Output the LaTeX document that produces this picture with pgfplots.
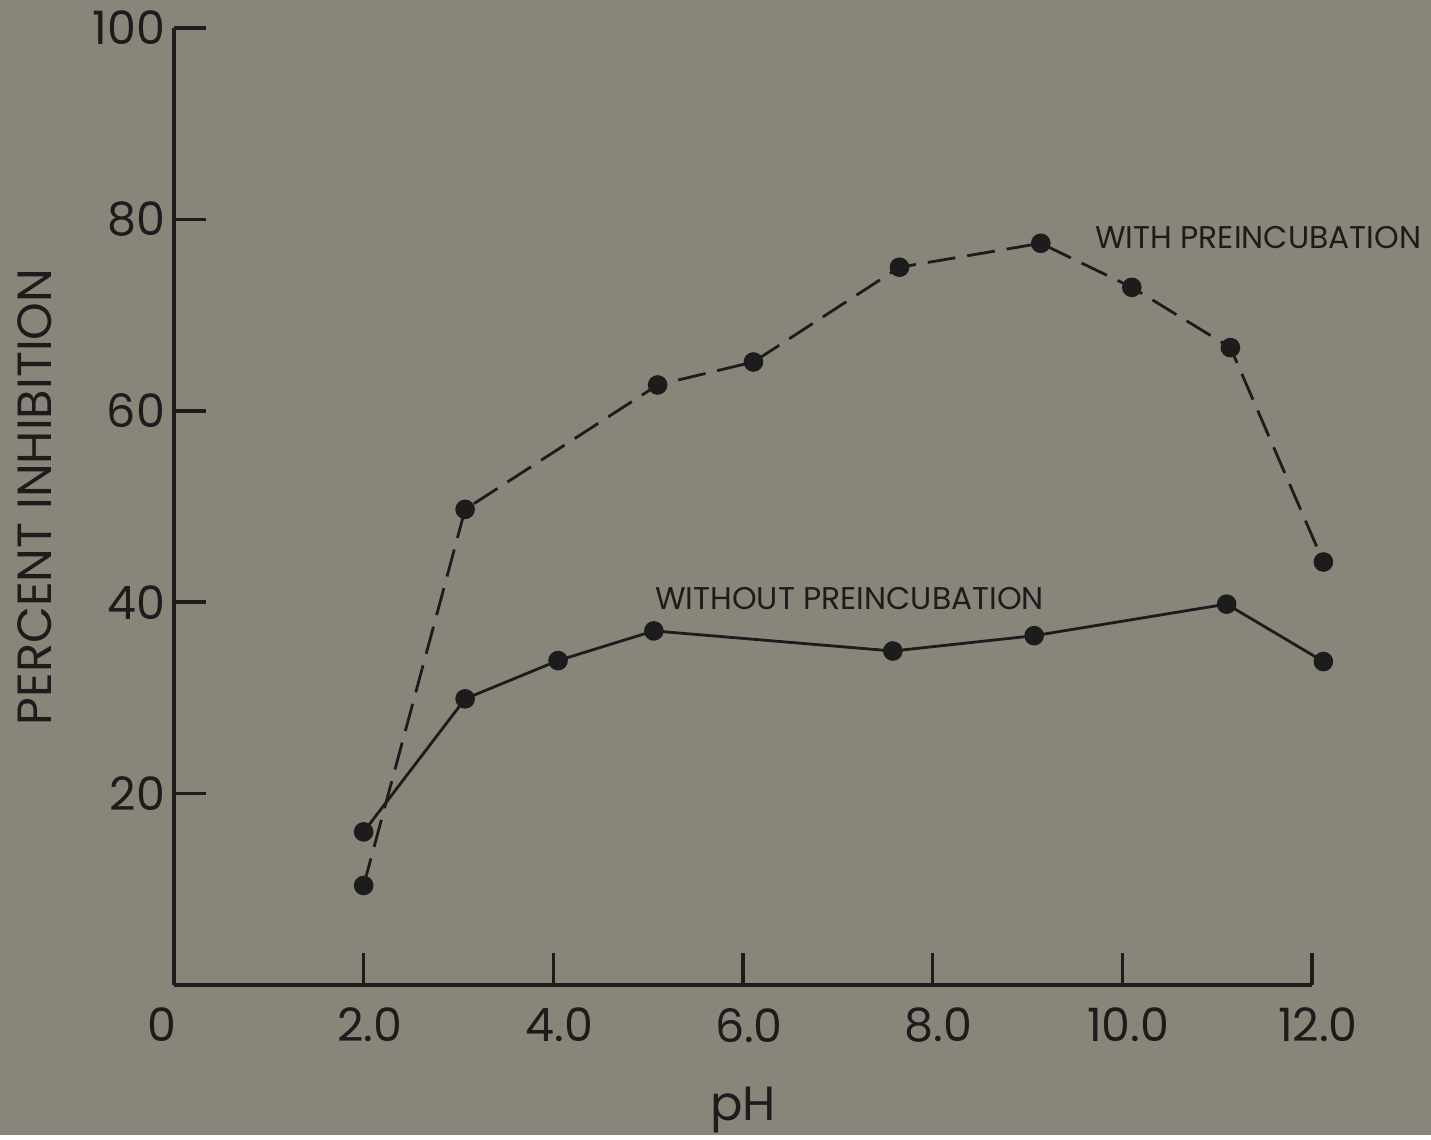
\documentclass[border=0pt]{standalone}
\usepackage{pgfplots}
\pgfplotsset{compat=1.18}
\usepackage{fontspec}
\setmainfont{Poppins}
\definecolor{bg}{HTML}{8A857A}
\definecolor{ink}{HTML}{1C1C1C}
\begin{document}
\begin{tikzpicture}
\fill[bg] (-87pt,-75pt) rectangle (628.5pt,492.5pt);
\begin{axis}[
  scale only axis,
  width=569pt, height=478.5pt,
  xmin=0, xmax=12, ymin=0, ymax=100,
  axis x line=bottom, axis y line=left,
  axis line style={ink, line width=1.8pt, -},
  every tick/.style={ink, line width=1.8pt},
  tick align=inside,
  major tick length=16pt,
  xtick={0,2,4,6,8,10,12},
  xticklabels={\kern-9pt 0\kern9pt,2.0,4.0,6.0,8.0,10.0,12.0},
  ytick={20,40,60,80,100},
  /pgf/number format/assume math mode=true,
  ticklabel style={font=\fontsize{23}{26}\selectfont, text=ink},
  xticklabel style={anchor=north, yshift=-8pt, xshift=3pt},
  yticklabel style={anchor=east, xshift=-1pt},
  xlabel={pH},
  ylabel={PERCENT INHIBITION},
  label style={font=\fontsize{24}{27}\selectfont, text=ink},
  xlabel style={at={(axis description cs:0.5,-0.1306)}, anchor=center},
  ylabel style={at={(axis description cs:-0.122,0.51)}, anchor=center, rotate=0},
  clip=false,
]
\addplot[ink, line width=1.4pt, dash pattern=on 14pt off 6pt, mark=*, mark size=4.2pt, mark options={solid, fill=ink}]
coordinates {(2.0,10.4) (3.07,49.7) (5.1,62.7) (6.11,65.1) (7.65,75.0) (9.14,77.5) (10.1,72.9) (11.14,66.6) (12.12,44.2)};
\addplot[ink, line width=1.4pt, mark=*, mark size=4.2pt, mark options={solid, fill=ink}]
coordinates {(2.0,16.0) (3.07,29.9) (4.05,33.9) (5.06,37.0) (7.58,34.9) (9.07,36.5) (11.1,39.8) (12.12,33.8)};
\node[anchor=west, inner sep=0pt, text=ink, font=\fontsize{15.7}{18}\selectfont] at (axis cs:9.71,78.1) {WITH PREINCUBATION};
\node[anchor=west, inner sep=0pt, text=ink, font=\fontsize{15.7}{18}\selectfont] at (axis cs:5.07,40.4) {WITHOUT PREINCUBATION};
\end{axis}
\end{tikzpicture}
\end{document}
